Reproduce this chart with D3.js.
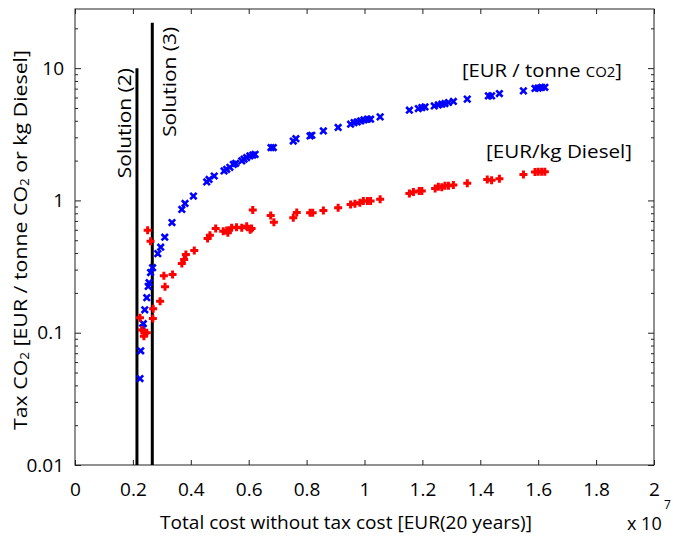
<!DOCTYPE html>
<html>
<head>
<meta charset="utf-8">
<script src="https://cdn.jsdelivr.net/npm/d3@7"></script>
<style>
  body { margin: 0; background: #fff; }
  svg { display: block; font-family: "Open Sans", "DejaVu Sans", sans-serif; }
</style>
</head>
<body>
<svg></svg>
<script>
// Taille de la figure
const width = 673;
const height = 536;

// Données : coût total (x 1e7 EUR) et taxe CO2
const co2Cost = [0.2245, 0.227, 0.234, 0.236, 0.241, 0.248, 0.253, 0.256, 0.261, 0.268,
  0.286, 0.296, 0.310, 0.335, 0.369, 0.380, 0.409, 0.455, 0.463, 0.481,
  0.515, 0.524, 0.535, 0.547, 0.555, 0.576, 0.584, 0.593, 0.604, 0.614, 0.622,
  0.677, 0.685, 0.754, 0.763, 0.812, 0.818, 0.858, 0.909,
  0.952, 0.964, 0.975, 0.987, 0.998, 1.010, 1.021, 1.054,
  1.155, 1.186, 1.198, 1.209, 1.241, 1.255, 1.267, 1.278, 1.290, 1.307,
  1.355, 1.428, 1.439, 1.466, 1.549, 1.589, 1.600, 1.612, 1.623];
const co2Tax = [0.045, 0.073, 0.109, 0.117, 0.149, 0.184, 0.224, 0.239, 0.285, 0.31,
  0.396, 0.443, 0.527, 0.681, 0.855, 0.949, 1.08, 1.38, 1.44, 1.53,
  1.67, 1.72, 1.78, 1.87, 1.91, 1.99, 2.05, 2.11, 2.17, 2.20, 2.23,
  2.51, 2.51, 2.81, 2.93, 3.07, 3.11, 3.35, 3.56,
  3.77, 3.88, 3.92, 3.99, 4.06, 4.11, 4.11, 4.28,
  4.81, 4.95, 5.04, 5.09, 5.18, 5.27, 5.34, 5.40, 5.50, 5.60,
  5.83, 6.17, 6.17, 6.43, 6.73, 7.02, 7.07, 7.17, 7.17];

const dieselCost = [0.2245, 0.231, 0.241, 0.248, 0.238, 0.251, 0.261, 0.269, 0.270, 0.294,
  0.311, 0.307, 0.337, 0.369, 0.377, 0.383, 0.412, 0.458, 0.466, 0.486,
  0.512, 0.524, 0.528, 0.541, 0.558, 0.576, 0.593, 0.605, 0.610,
  0.614, 0.676, 0.687, 0.754, 0.766, 0.812, 0.821, 0.858, 0.909,
  0.952, 0.967, 0.984, 0.996, 1.010, 1.021, 1.054,
  1.155, 1.169, 1.189, 1.198, 1.244, 1.255, 1.267, 1.278, 1.290, 1.307,
  1.355, 1.424, 1.439, 1.466, 1.549, 1.589, 1.600, 1.612, 1.623];
const dieselTax = [0.130, 0.105, 0.0995, 0.10, 0.094, 0.596, 0.492, 0.128, 0.152, 0.173,
  0.223, 0.270, 0.275, 0.333, 0.357, 0.390, 0.418, 0.515, 0.546, 0.614,
  0.585, 0.592, 0.57, 0.621, 0.627, 0.621, 0.638, 0.60, 0.614,
  0.845, 0.769, 0.685, 0.740, 0.811, 0.807, 0.807, 0.84, 0.88,
  0.933, 0.945, 0.962, 0.99, 0.99, 0.99, 1.02,
  1.13, 1.16, 1.18, 1.18, 1.23, 1.27, 1.26, 1.29, 1.29, 1.31,
  1.35, 1.44, 1.42, 1.46, 1.57, 1.64, 1.65, 1.65, 1.65];

// Solutions (lignes verticales)
const solutionLabels = ["Solution (2)", "Solution (3)"];
const solutionCost = [0.214, 0.267];
const solutionTop = [10, 22];

// Graduations
const xTicks = [0, 0.2, 0.4, 0.6, 0.8, 1, 1.2, 1.4, 1.6, 1.8, 2];
const yTicks = [0.01, 0.1, 1, 10];
const yTickLabels = ["0.01", "0.1", "1", "10"];

const svg = d3.select("svg")
    .attr("width", width)
    .attr("height", height);

// Échelles
const x = d3.scaleLinear().domain([0, 2]).range([75, 654]);
const y = d3.scaleLog().domain([0.01, 28]).range([465, 9]);

// Petites graduations du log
const yMinor = [];
[0.01, 0.1, 1, 10].forEach(d => {
    for (let k = 2; k <= 9; k++) {
        const v = d * k;
        if (v <= 28) yMinor.push(v);
    }
});

// Axes (graduations vers l'intérieur, style MATLAB)
function styleAxis(g) {
    g.select(".domain").remove();
    g.selectAll("line").attr("stroke", "#222");
    g.selectAll("text").attr("fill", "#000").style("font-size", "19px")
        .style("font-family", '"Open Sans", sans-serif');
}

svg.append("g")
    .attr("transform", `translate(0,${y.range()[0]})`)
    .call(d3.axisBottom(x).tickValues(xTicks).tickSize(-5).tickPadding(18)
        .tickFormat(d => d3.format("")(d)))
    .call(styleAxis);

svg.append("g")
    .attr("transform", `translate(0,${y.range()[1]})`)
    .call(d3.axisTop(x).tickValues(xTicks).tickSize(-5).tickFormat(""))
    .call(styleAxis);

svg.append("g")
    .attr("transform", `translate(${x.range()[0]},0)`)
    .call(d3.axisLeft(y).tickValues(yTicks).tickSize(-6).tickPadding(11)
        .tickFormat((d, i) => yTickLabels[i]))
    .call(styleAxis);

svg.append("g")
    .attr("transform", `translate(${x.range()[0]},0)`)
    .call(d3.axisLeft(y).tickValues(yMinor).tickSize(-3).tickFormat(""))
    .call(styleAxis);

svg.append("g")
    .attr("transform", `translate(${x.range()[1]},0)`)
    .call(d3.axisRight(y).tickValues(yTicks).tickSize(-6).tickFormat(""))
    .call(styleAxis);

svg.append("g")
    .attr("transform", `translate(${x.range()[1]},0)`)
    .call(d3.axisRight(y).tickValues(yMinor).tickSize(-3).tickFormat(""))
    .call(styleAxis);

// Cadre
svg.append("rect")
    .attr("x", x.range()[0])
    .attr("y", y.range()[1])
    .attr("width", x.range()[1] - x.range()[0])
    .attr("height", y.range()[0] - y.range()[1])
    .attr("fill", "none")
    .attr("stroke", "#222")
    .attr("stroke-width", 1);

// Lignes des solutions
const solutions = solutionLabels.map((label, i) => ({
    label, cost: solutionCost[i], top: solutionTop[i]
}));

svg.selectAll(".solution")
    .data(solutions)
    .enter()
    .append("line")
    .attr("class", "solution")
    .attr("x1", d => x(d.cost))
    .attr("x2", d => x(d.cost))
    .attr("y1", d => y(d.top))
    .attr("y2", y(0.01))
    .attr("stroke", "#000")
    .attr("stroke-width", 3);

svg.selectAll(".solution-label")
    .data(solutions)
    .enter()
    .append("text")
    .attr("class", "solution-label")
    .attr("transform", (d, i) => i === 0
        ? `translate(${x(d.cost) - 6},${y(d.top)}) rotate(-90)`
        : `translate(${x(d.cost) + 24},${y(d.top) + 4}) rotate(-90)`)
    .attr("text-anchor", "end")
    .attr("textLength", 110)
    .attr("lengthAdjust", "spacingAndGlyphs")
    .style("font-size", "19px")
    .text(d => d.label);

// Points
const blue = co2Cost.map((c, i) => ({ c, v: co2Tax[i] }));
const red = dieselCost.map((c, i) => ({ c, v: dieselTax[i] }));

svg.selectAll(".co2")
    .data(blue)
    .enter()
    .append("path")
    .attr("class", "co2")
    .attr("transform", d => `translate(${x(d.c)},${y(d.v)})`)
    .attr("d", "M-3.2,-3.2L3.2,3.2M-3.2,3.2L3.2,-3.2")
    .attr("stroke", "#0000ff")
    .attr("stroke-width", 2.6)
    .attr("fill", "none");

svg.selectAll(".diesel")
    .data(red)
    .enter()
    .append("path")
    .attr("class", "diesel")
    .attr("transform", d => `translate(${x(d.c)},${y(d.v)})`)
    .attr("d", "M-4,0H4M0,-4V4")
    .attr("stroke", "#ff0000")
    .attr("stroke-width", 3)
    .attr("fill", "none");

// Annotations
const ann1 = svg.append("text")
    .attr("x", 462).attr("y", 77)
    .attr("textLength", 160)
    .attr("lengthAdjust", "spacingAndGlyphs")
    .style("font-size", "19px");
ann1.append("tspan").text("[EUR / tonne ");
ann1.append("tspan").style("font-size", "14px").text("CO2");
ann1.append("tspan").text("]");

svg.append("text")
    .attr("x", 486).attr("y", 158)
    .attr("textLength", 146)
    .attr("lengthAdjust", "spacingAndGlyphs")
    .style("font-size", "19px")
    .text("[EUR/kg Diesel]");

// Titres des axes
svg.append("text")
    .attr("x", 346).attr("y", 529)
    .attr("text-anchor", "middle")
    .attr("textLength", 372)
    .attr("lengthAdjust", "spacingAndGlyphs")
    .style("font-size", "19px")
    .text("Total cost without tax cost [EUR(20 years)]");

svg.append("text")
    .attr("x", 627).attr("y", 530)
    .style("font-size", "18px")
    .text("x 10");
svg.append("text")
    .attr("x", 664).attr("y", 509)
    .style("font-size", "12px")
    .text("7");

const yt = svg.append("text")
    .attr("transform", "translate(27,240) rotate(-90)")
    .attr("text-anchor", "middle")
    .attr("textLength", 380)
    .attr("lengthAdjust", "spacingAndGlyphs")
    .style("font-size", "19px");
yt.append("tspan").text("Tax CO");
yt.append("tspan").attr("dy", 2).style("font-size", "12px").text("2");
yt.append("tspan").attr("dy", -2).text(" [EUR / tonne CO");
yt.append("tspan").attr("dy", 2).style("font-size", "12px").text("2");
yt.append("tspan").attr("dy", -2).text(" or kg Diesel]");
</script>
</body>
</html>
